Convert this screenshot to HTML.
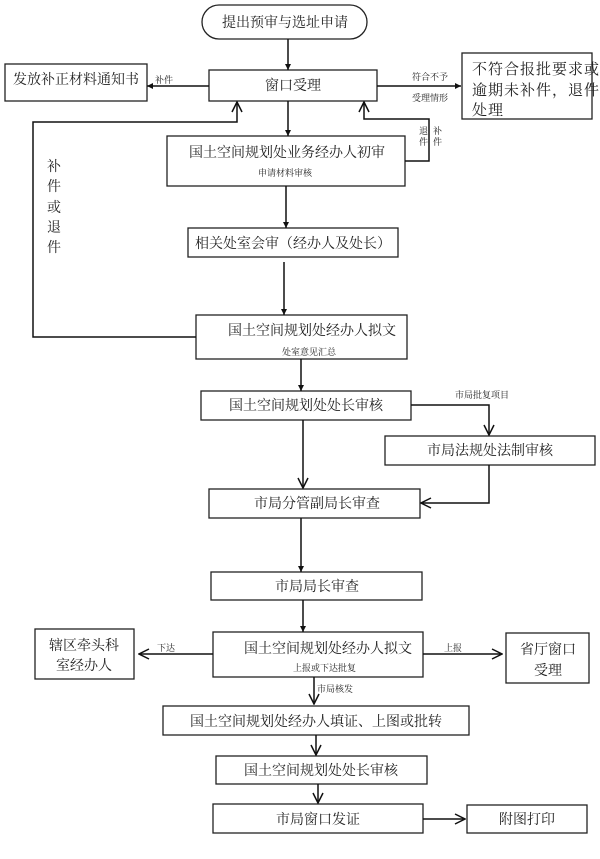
<!DOCTYPE html>
<html><head><meta charset="utf-8"><style>
html,body{margin:0;padding:0;background:#fff;}
svg{display:block;}
text{font-family:"Liberation Serif","Noto Serif CJK SC",serif;fill:#222;}
.m{font-size:14px;}
.s{font-size:9px;}
</style></head><body>
<svg width="600" height="859" viewBox="0 0 600 859" xmlns="http://www.w3.org/2000/svg">
<defs>
<marker id="f" viewBox="0 0 10 10" refX="10" refY="5" markerWidth="6" markerHeight="6" orient="auto" markerUnits="userSpaceOnUse"><path d="M0,0 L10,5 L0,10 z" fill="#111"/></marker>
<marker id="o" viewBox="0 0 12 12" refX="11" refY="6" markerWidth="12" markerHeight="12" orient="auto" markerUnits="userSpaceOnUse"><path d="M1,1 L11,6 L1,11" fill="none" stroke="#111" stroke-width="1.5"/></marker>
</defs>
<g fill="none" stroke="#222" stroke-width="1.3">
<rect x="202" y="5" width="165" height="34" rx="17"/>
<rect x="209" y="70" width="168" height="31"/>
<rect x="5" y="64" width="142" height="37"/>
<rect x="462" y="53" width="130" height="66"/>
<rect x="167" y="136" width="238" height="50"/>
<rect x="188" y="228" width="210" height="29"/>
<rect x="196" y="315" width="211" height="44"/>
<rect x="201" y="391" width="210" height="29"/>
<rect x="385" y="436" width="210" height="29"/>
<rect x="209" y="489" width="211" height="29"/>
<rect x="211" y="572" width="211" height="28"/>
<rect x="213" y="632" width="210" height="45"/>
<rect x="35" y="629" width="99" height="50"/>
<rect x="506" y="633" width="83" height="50"/>
<rect x="163" y="706" width="306" height="29"/>
<rect x="216" y="756" width="211" height="28"/>
<rect x="213" y="804" width="210" height="29"/>
<rect x="467" y="805" width="120" height="28"/>
</g>
<g fill="none" stroke="#111" stroke-width="1.5">
<line x1="288" y1="39" x2="288" y2="70" marker-end="url(#f)"/>
<line x1="209" y1="86" x2="147" y2="86" marker-end="url(#f)"/>
<line x1="377" y1="86" x2="461" y2="86" marker-end="url(#f)"/>
<line x1="288" y1="101" x2="288" y2="136" marker-end="url(#f)"/>
<polyline points="405,161 429,161 429,119 364,119 364,102" marker-end="url(#o)"/>
<polyline points="196,337 33,337 33,122 237,122 237,102" marker-end="url(#o)"/>
<line x1="286" y1="186" x2="286" y2="228" marker-end="url(#f)"/>
<line x1="284" y1="262" x2="284" y2="315" marker-end="url(#f)"/>
<line x1="301" y1="359" x2="301" y2="391" marker-end="url(#f)"/>
<polyline points="411,405 489,405 489,435" marker-end="url(#o)"/>
<polyline points="489,465 489,503 421,503" marker-end="url(#o)"/>
<line x1="303" y1="420" x2="303" y2="488" marker-end="url(#o)"/>
<line x1="301" y1="518" x2="301" y2="572" marker-end="url(#f)"/>
<line x1="303" y1="600" x2="303" y2="632" marker-end="url(#f)"/>
<line x1="213" y1="654" x2="139" y2="654" marker-end="url(#o)"/>
<line x1="423" y1="654" x2="502" y2="654" marker-end="url(#o)"/>
<line x1="314" y1="677" x2="314" y2="704" marker-end="url(#o)"/>
<line x1="316" y1="735" x2="316" y2="755" marker-end="url(#o)"/>
<line x1="318" y1="784" x2="318" y2="803" marker-end="url(#o)"/>
<line x1="423" y1="819" x2="465" y2="819" marker-end="url(#o)"/>
</g>
<g class="m" text-anchor="middle">
<text x="285" y="27">提出预审与选址申请</text>
<text x="293" y="90">窗口受理</text>
<text x="76" y="84">发放补正材料通知书</text>
<text x="287" y="157">国土空间规划处业务经办人初审</text>
<text x="293" y="248">相关处室会审（经办人及处长）</text>
<text x="312" y="335">国土空间规划处经办人拟文</text>
<text x="306" y="410">国土空间规划处处长审核</text>
<text x="490" y="455">市局法规处法制审核</text>
<text x="317" y="508">市局分管副局长审查</text>
<text x="317" y="591">市局局长审查</text>
<text x="328" y="653">国土空间规划处经办人拟文</text>
<text x="84" y="650">辖区牵头科</text>
<text x="84" y="670">室经办人</text>
<text x="548" y="654">省厅窗口</text>
<text x="548" y="675">受理</text>
<text x="316" y="726">国土空间规划处经办人填证、上图或批转</text>
<text x="321" y="775">国土空间规划处处长审核</text>
<text x="318" y="824">市局窗口发证</text>
<text x="527" y="824">附图打印</text>
</g>
<g style="font-size:15px;letter-spacing:1px">
<text x="472" y="74">不符合报批要求或</text>
<text x="472" y="95">逾期未补件，退件</text>
<text x="472" y="115">处理</text>
</g>
<g class="m" text-anchor="middle">
<text x="54" y="171">补</text>
<text x="54" y="191">件</text>
<text x="54" y="212">或</text>
<text x="54" y="232">退</text>
<text x="54" y="252">件</text>
</g>
<g class="s">
<text x="155" y="83">补件</text>
<text x="412" y="80">符合不予</text>
<text x="412" y="101">受理情形</text>
<text x="419" y="134">退</text>
<text x="419" y="145">件</text>
<text x="433" y="134">补</text>
<text x="433" y="145">件</text>
<text x="258" y="176">申请材料审核</text>
<text x="282" y="355">处室意见汇总</text>
<text x="455" y="398">市局批复项目</text>
<text x="157" y="651">下达</text>
<text x="444" y="651">上报</text>
<text x="293" y="671">上报或下达批复</text>
<text x="317" y="692">市局核发</text>
</g>
</svg>
</body></html>
